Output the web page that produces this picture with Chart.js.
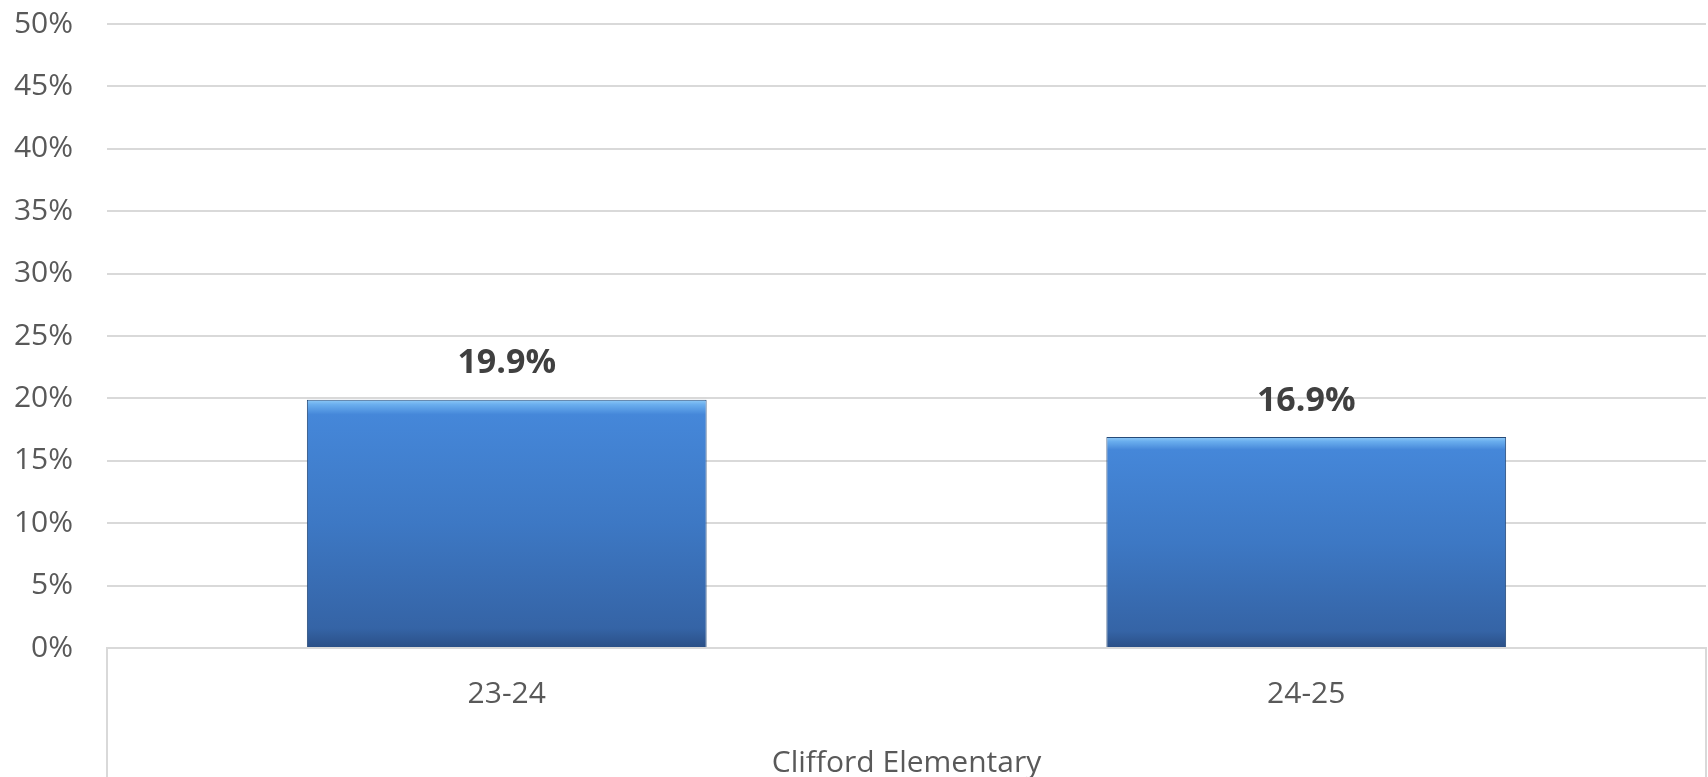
<!DOCTYPE html>
<html>
<head>
<meta charset="utf-8">
<script src="https://cdn.jsdelivr.net/npm/chart.js@4/dist/chart.umd.min.js"></script>
<style>
  html, body { margin: 0; padding: 0; background: #fff; }
  #wrap { width: 1708px; height: 777px; }
</style>
</head>
<body>
<div id="wrap"><canvas id="chart" width="1708" height="777"></canvas></div>
<script>
// chart data
var categories = ['23-24', '24-25'];
var groupLabel = 'Clifford Elementary';
var rates = [19.9, 16.9];
var yTicks = [0, 5, 10, 15, 20, 25, 30, 35, 40, 45, 50];

var FONT = "'Open Sans', 'DejaVu Sans', sans-serif";
var GRID = '#d9d9d9';

function barFill(ctx) {
    var chart = ctx.chart;
    if (!chart.chartArea || ctx.dataIndex === undefined) return '#3f7fd0';
    var y = chart.scales.y;
    var top = y.getPixelForValue(rates[ctx.dataIndex]);
    var bottom = y.getPixelForValue(0);
    var g = chart.ctx.createLinearGradient(0, top, 0, bottom);
    g.addColorStop(0, '#8fcaf7');
    g.addColorStop(0.02, '#6aaeee');
    g.addColorStop(0.06, '#4587d9');
    g.addColorStop(0.5, '#3d78c4');
    g.addColorStop(0.92, '#3564a6');
    g.addColorStop(1, '#2a4f86');
    return g;
}

// value labels above bars
var valueLabels = {
    id: 'valueLabels',
    afterDatasetsDraw: function(chart) {
        var c = chart.ctx;
        var meta = chart.getDatasetMeta(0);
        c.save();
        c.font = 'bold 34px ' + FONT;
        c.fillStyle = '#404040';
        c.textAlign = 'center';
        c.textBaseline = 'middle';
        meta.data.forEach(function(bar, i) {
            c.fillText(rates[i].toFixed(1) + '%', bar.x, bar.y - 36);
        });
        c.restore();
    }
};

// outer box of the category axis
var axisBox = {
    id: 'axisBox',
    afterDraw: function(chart) {
        var a = chart.chartArea;
        var c = chart.ctx;
        c.save();
        c.strokeStyle = GRID;
        c.lineWidth = 2;
        c.beginPath();
        c.moveTo(a.left, a.bottom);
        c.lineTo(a.left, chart.height);
        c.moveTo(a.right, a.bottom);
        c.lineTo(a.right, chart.height);
        c.stroke();
        c.restore();
    }
};

new Chart(document.getElementById('chart'), {
    type: 'bar',
    data: {
        labels: categories,
        datasets: [{
            data: rates,
            backgroundColor: barFill,
            borderColor: '#264a78',
            borderWidth: 1,
            categoryPercentage: 1,
            barPercentage: 0.5
        }]
    },
    options: {
        responsive: false,
        animation: false,
        layout: { padding: { top: 24, right: 2, left: 0, bottom: 0 } },
        plugins: {
            legend: { display: false },
            tooltip: { enabled: false }
        },
        scales: {
            y: {
                min: 0,
                max: 50,
                afterBuildTicks: function(axis) {
                    axis.ticks = yTicks.map(function(v) { return { value: v }; });
                },
                afterFit: function(axis) {
                    axis.width = 107;
                    axis.paddingTop = 0;
                    axis.paddingBottom = 0;
                },
                border: { display: false },
                grid: { color: GRID, lineWidth: 2, drawTicks: false },
                ticks: {
                    padding: 34,
                    color: '#595959',
                    font: { family: FONT, size: 30, lineHeight: 1 },
                    callback: function(v) { return v + '%'; }
                }
            },
            x: {
                afterFit: function(axis) { axis.height = 129; },
                border: { display: true, color: GRID, width: 2 },
                grid: { display: false, drawTicks: false },
                ticks: {
                    padding: 31,
                    color: '#595959',
                    font: { family: FONT, size: 30, lineHeight: 1 }
                },
                title: {
                    display: true,
                    text: groupLabel,
                    color: '#595959',
                    padding: { top: 0, bottom: -1 },
                    font: { family: FONT, size: 30, lineHeight: 1 }
                }
            }
        }
    },
    plugins: [valueLabels, axisBox]
});
</script>
</body>
</html>
